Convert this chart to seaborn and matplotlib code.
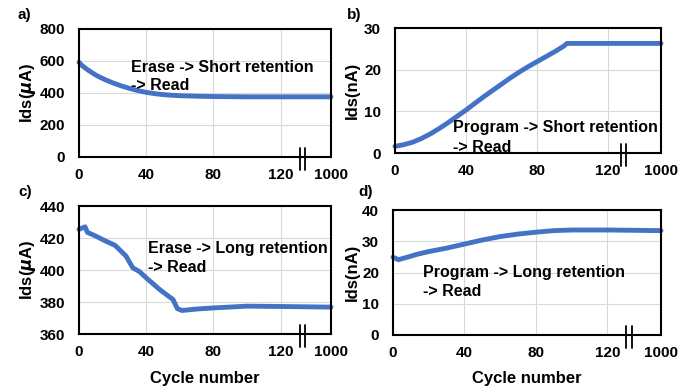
import matplotlib
matplotlib.use("Agg")
import matplotlib.pyplot as plt
import matplotlib.transforms as mtrans
import seaborn as sns
import pandas as pd

sns.set_style("white")
plt.rcParams['font.family'] = ['Liberation Sans', 'DejaVu Sans']
plt.rcParams['font.weight'] = 'bold'
plt.rcParams['mathtext.fontset'] = 'dejavusans'
plt.rcParams['text.color'] = 'black'
plt.rcParams['xtick.color'] = 'black'
plt.rcParams['ytick.color'] = 'black'
plt.rcParams['axes.labelcolor'] = 'black'

# ---- data ----
a_x = [0, 1, 2, 3, 5, 7, 10, 12, 15, 17, 20, 25, 30, 35, 40, 45, 50, 55, 60, 70, 80, 90, 100, 120, 150]
a_y = [592, 580, 570, 562, 546, 532, 512, 501, 486, 477, 464, 445, 429, 415, 404, 396, 390, 386, 383, 380, 378, 377, 376, 376, 376]

b_x = [0, 5, 10, 15, 20, 25, 30, 35, 40, 45, 50, 55, 60, 65, 70, 75, 80, 85, 90, 95, 97, 100, 110, 120, 130, 140, 150]
b_y = [1.6, 2.0, 2.6, 3.5, 4.6, 5.9, 7.3, 8.8, 10.3, 11.9, 13.5, 15.0, 16.5, 18.0, 19.4, 20.7, 21.9, 23.1, 24.3, 25.6, 26.3, 26.3, 26.3, 26.3, 26.3, 26.3, 26.3]

c_x = [0, 3.6, 5, 10, 15, 21.5, 28, 32, 36, 40, 48, 56, 58.5, 61.3, 70, 80, 100, 120, 150]
c_y = [425.4, 427.0, 423.5, 421.2, 418.5, 415.4, 408.7, 401.4, 399.0, 395.1, 387.8, 381.5, 375.9, 374.7, 375.6, 376.3, 377.4, 377.2, 376.8]

d_x = [0, 3, 8, 14, 20, 30, 40, 50, 60, 70, 80, 90, 100, 120, 150]
d_y = [24.9, 24.1, 24.9, 25.9, 26.7, 27.8, 29.1, 30.4, 31.5, 32.3, 32.9, 33.4, 33.6, 33.6, 33.4]

x_ticks = [0, 40, 80, 120, 150]
x_ticklabels = ['0', '40', '80', '120', '1000']

panels = [
    dict(x=a_x, y=a_y, ylim=(0, 800), yticks=[0, 200, 400, 600, 800], ylabel=r'Ids($\mu$A)',
         text=['Erase -> Short retention', '-> Read'], tpos=(131, 67), label='a)', lpos=(18, 15),
         box=(79, 331, 29, 157), ylab_x=28, brk=133, xlabel=False),
    dict(x=b_x, y=b_y, ylim=(0, 30), yticks=[0, 10, 20, 30], ylabel='Ids(nA)',
         text=['Program -> Short retention', '-> Read'], tpos=(453, 128), label='b)', lpos=(347, 15),
         box=(395, 661, 28, 153), ylab_x=352, brk=129, xlabel=False),
    dict(x=c_x, y=c_y, ylim=(360, 440), yticks=[360, 380, 400, 420, 440], ylabel=r'Ids($\mu$A)',
         text=['Erase -> Long retention', '-> Read'], tpos=(148, 248), label='c)', lpos=(18, 192),
         box=(79, 331, 206, 334), ylab_x=28, brk=133, xlabel=True),
    dict(x=d_x, y=d_y, ylim=(0, 40), yticks=[0, 10, 20, 30, 40], ylabel='Ids(nA)',
         text=['Program -> Long retention', '-> Read'], tpos=(423, 272), label='d)', lpos=(358, 192),
         box=(393, 661, 210, 335), ylab_x=352, brk=132, xlabel=True),
]

W, H = 689, 392
fig = plt.figure(figsize=(W / 100, H / 100), dpi=100)
color = '#4472C4'

for p in panels:
    l, r, t, b = p['box']
    ax = fig.add_axes([l / W, 1 - b / H, (r - l) / W, (b - t) / H])
    df = pd.DataFrame({'x': p['x'], 'y': p['y']})
    sns.lineplot(data=df, x='x', y='y', ax=ax, color=color, lw=3.5, clip_on=False)
    ax.set_xlim(0, 150)
    ax.set_ylim(*p['ylim'])
    ax.set_xticks(x_ticks)
    ax.set_xticklabels(x_ticklabels)
    ax.set_yticks(p['yticks'])
    ax.grid(True, color='#d9d9d9', lw=0.8)
    ax.set_axisbelow(True)
    for s in ax.spines.values():
        s.set_color('black')
        s.set_linewidth(1.5)
    ax.tick_params(axis='both', length=0, labelsize=11, labelcolor='black')
    ax.tick_params(axis='y', pad=10)
    ax.tick_params(axis='x', pad=8)
    for lab in ax.get_xticklabels() + ax.get_yticklabels():
        lab.set_fontweight('bold')
    ax.set_ylabel('')
    ax.set_xlabel('')
    # y label
    fig.text(p['ylab_x'] / W, 1 - ((t + b) / 2) / H, p['ylabel'], rotation=90,
             ha='center', va='center', fontsize=12, fontweight='bold')
    if p['xlabel']:
        fig.text(((l + r) / 2) / W, 1 - 379 / H, 'Cycle number', ha='center', va='center',
                 fontsize=12, fontweight='bold')
    # annotation
    tx, ty = p['tpos']
    fig.text(tx / W, 1 - ty / H, p['text'][0], ha='left', va='center', fontsize=11.5, fontweight='bold')
    fig.text(tx / W, 1 - (ty + 19) / H, p['text'][1], ha='left', va='center', fontsize=11.5, fontweight='bold')
    fig.text(p['lpos'][0] / W, 1 - p['lpos'][1] / H, p['label'], ha='left', va='center',
             fontsize=11, fontweight='bold')
    # axis break marks
    trans = mtrans.blended_transform_factory(ax.transData, ax.transAxes)
    for dx in (-1.5, 1.5):
        ax.plot([p['brk'] + dx, p['brk'] + dx], [-0.1, 0.07], transform=trans, color='black',
                lw=1.3, clip_on=False)

fig.savefig('out.png', dpi=100)
